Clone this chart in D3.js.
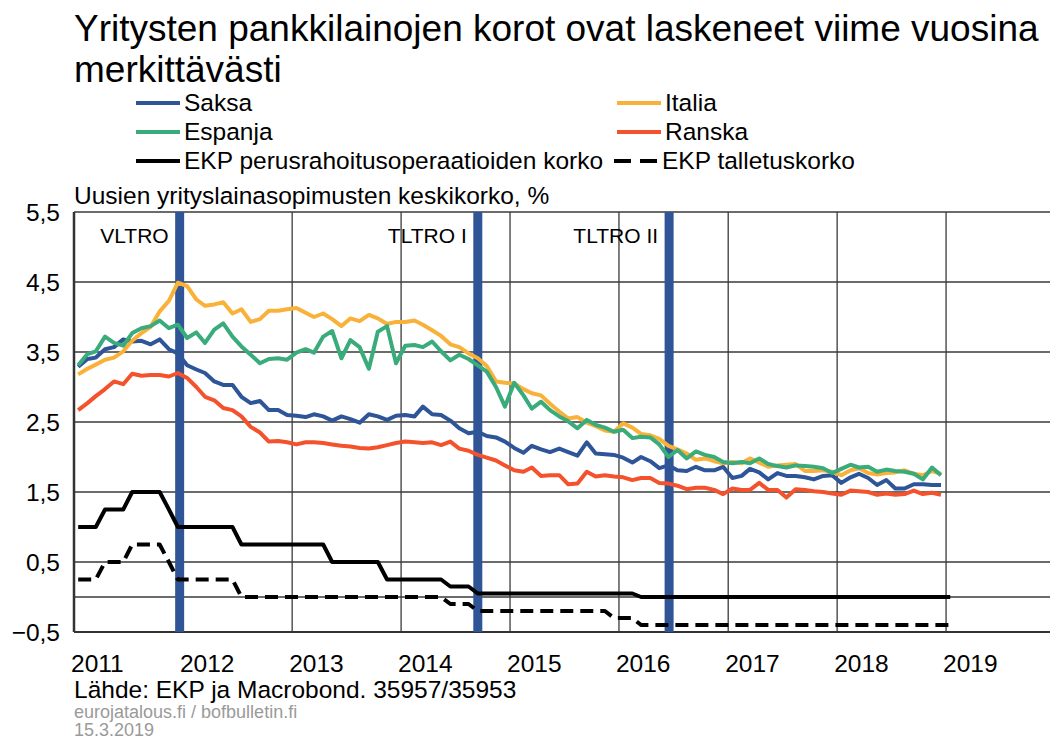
<!DOCTYPE html>
<html><head><meta charset="utf-8">
<script src="https://cdn.jsdelivr.net/npm/d3@7"></script>
<style>body{margin:0;background:#fff} text{font-family:"Liberation Sans", Arial, sans-serif}</style>
</head><body><svg id="c" width="1050" height="740"></svg>
<script>
// ---- data ----
const startYear = 2011;
const yearLabels = ["2011","2012","2013","2014","2015","2016","2017","2018","2019"];
const yTicks = [-0.5, 0.5, 1.5, 2.5, 3.5, 4.5, 5.5];
const extraGrid = [0];

const saksa = [3.29,3.40,3.42,3.54,3.57,3.68,3.65,3.66,3.61,3.68,3.54,3.48,3.31,3.25,3.20,3.08,3.03,3.03,2.86,2.77,2.80,2.67,2.67,2.60,
2.59,2.57,2.61,2.58,2.52,2.58,2.54,2.49,2.61,2.58,2.53,2.59,2.60,2.58,2.72,2.61,2.60,2.52,2.41,2.34,2.36,2.30,2.28,2.22,
2.13,2.06,2.16,2.11,2.07,2.12,2.07,2.02,2.21,2.05,2.04,2.03,1.99,1.92,2.00,1.94,1.84,1.88,1.81,1.80,1.86,1.81,1.81,1.86,
1.70,1.73,1.83,1.78,1.68,1.77,1.73,1.73,1.71,1.68,1.73,1.74,1.63,1.71,1.76,1.70,1.60,1.67,1.55,1.55,1.61,1.61,1.60,1.60];
const italia = [3.18,3.26,3.32,3.39,3.42,3.51,3.66,3.77,3.86,4.08,4.23,4.49,4.44,4.25,4.16,4.18,4.21,4.05,4.11,3.93,3.97,4.09,4.09,4.11,
4.13,4.06,4.00,4.05,3.97,3.87,3.98,3.94,4.03,3.98,3.90,3.93,3.93,3.95,3.89,3.81,3.73,3.61,3.57,3.48,3.41,3.30,3.08,3.06,
3.05,2.97,2.91,2.88,2.76,2.65,2.55,2.57,2.49,2.44,2.38,2.36,2.48,2.42,2.33,2.31,2.26,2.16,2.11,2.05,1.96,1.98,1.94,1.91,
1.93,1.91,1.98,1.92,1.86,1.88,1.89,1.90,1.80,1.80,1.81,1.79,1.74,1.81,1.84,1.77,1.75,1.77,1.78,1.81,1.76,1.74,1.80,1.76];
const espanja = [3.31,3.47,3.51,3.72,3.63,3.59,3.77,3.84,3.87,3.95,3.84,3.89,3.70,3.78,3.63,3.82,3.91,3.72,3.58,3.46,3.34,3.40,3.41,3.39,
3.49,3.54,3.49,3.72,3.80,3.41,3.67,3.57,3.26,3.79,3.87,3.34,3.59,3.60,3.57,3.65,3.51,3.38,3.46,3.40,3.31,3.22,3.00,2.72,
3.06,2.88,2.69,2.79,2.67,2.58,2.51,2.41,2.53,2.46,2.42,2.36,2.39,2.27,2.29,2.28,2.18,2.00,2.10,1.98,2.08,2.03,2.00,1.93,
1.91,1.93,1.91,1.98,1.90,1.87,1.85,1.88,1.87,1.86,1.84,1.77,1.83,1.89,1.85,1.86,1.79,1.82,1.80,1.79,1.76,1.68,1.85,1.74];
const ranska = [2.67,2.77,2.87,2.97,3.08,3.04,3.19,3.16,3.17,3.17,3.15,3.20,3.13,3.00,2.86,2.81,2.70,2.67,2.58,2.43,2.35,2.22,2.23,2.21,
2.18,2.21,2.21,2.20,2.18,2.16,2.15,2.13,2.12,2.14,2.17,2.20,2.22,2.21,2.20,2.21,2.17,2.22,2.12,2.09,2.03,1.99,1.95,1.88,
1.81,1.79,1.85,1.73,1.74,1.74,1.61,1.62,1.79,1.72,1.74,1.72,1.71,1.67,1.70,1.70,1.63,1.62,1.59,1.54,1.56,1.56,1.53,1.47,
1.55,1.53,1.53,1.63,1.53,1.53,1.42,1.54,1.53,1.51,1.50,1.48,1.46,1.52,1.51,1.50,1.46,1.48,1.46,1.47,1.52,1.47,1.49,1.46];
const ekpPerus = [1,1,1,1.25,1.25,1.25,1.5,1.5,1.5,1.5,1.25,1,
1,1,1,1,1,1,0.75,0.75,0.75,0.75,0.75,0.75,
0.75,0.75,0.75,0.75,0.5,0.5,0.5,0.5,0.5,0.5,0.25,0.25,
0.25,0.25,0.25,0.25,0.25,0.15,0.15,0.15,0.05,0.05,0.05,0.05,
0.05,0.05,0.05,0.05,0.05,0.05,0.05,0.05,0.05,0.05,0.05,0.05,
0.05,0.05,0,0,0,0,0,0,0,0,0,0,
0,0,0,0,0,0,0,0,0,0,0,0,
0,0,0,0,0,0,0,0,0,0,0,0,
0];
const ekpTalletus = [0.25,0.25,0.25,0.5,0.5,0.5,0.75,0.75,0.75,0.75,0.5,0.25,
0.25,0.25,0.25,0.25,0.25,0.25,0,0,0,0,0,0,
0,0,0,0,0,0,0,0,0,0,0,0,
0,0,0,0,0,-0.1,-0.1,-0.1,-0.2,-0.2,-0.2,-0.2,
-0.2,-0.2,-0.2,-0.2,-0.2,-0.2,-0.2,-0.2,-0.2,-0.2,-0.2,-0.3,
-0.3,-0.3,-0.4,-0.4,-0.4,-0.4,-0.4,-0.4,-0.4,-0.4,-0.4,-0.4,
-0.4,-0.4,-0.4,-0.4,-0.4,-0.4,-0.4,-0.4,-0.4,-0.4,-0.4,-0.4,
-0.4,-0.4,-0.4,-0.4,-0.4,-0.4,-0.4,-0.4,-0.4,-0.4,-0.4,-0.4,
-0.4];
const eventNames = ["VLTRO", "TLTRO I", "TLTRO II"];
const eventDates = ["2011-12-21", "2014-09-15", "2016-06-17"];

// ---- chart ----
const svg = d3.select("#c");
const L = 74, R = 1055, T = 212, B = 632;
const x = d3.scaleUtc().domain([new Date(Date.UTC(2011,0,1)), new Date(Date.UTC(2020,0,1))]).range([L, R]);
const y = d3.scaleLinear().domain([-0.5, 5.5]).range([B, T]);
const monthDate = i => new Date(Date.UTC(startYear, i, 15));
const fmt = v => d3.format(".1f")(v).replace(".", ",");

// title
svg.append("text").attr("x", 74).attr("y", 41).attr("font-size", 37).attr("fill", "#000")
  .text("Yritysten pankkilainojen korot ovat laskeneet viime vuosina");
svg.append("text").attr("x", 74).attr("y", 82).attr("font-size", 37).attr("fill", "#000")
  .text("merkittävästi");

// legend
const colors = {saksa:"#2e5597", italia:"#f9b13a", espanja:"#3aab7b", ranska:"#f4522d"};
const legend = [
  {name:"Saksa", c:colors.saksa, x:136, y:111},
  {name:"Italia", c:colors.italia, x:617, y:111},
  {name:"Espanja", c:colors.espanja, x:136, y:140},
  {name:"Ranska", c:colors.ranska, x:617, y:140},
  {name:"EKP perusrahoitusoperaatioiden korko", c:"#000", x:136, y:169},
  {name:"EKP talletuskorko", c:"#000", x:614, y:169, dash:true},
];
legend.forEach(d => {
  svg.append("line").attr("x1", d.x).attr("x2", d.x + 44).attr("y1", d.y - 8).attr("y2", d.y - 8)
    .attr("stroke", d.c).attr("stroke-width", 4)
    .attr("stroke-dasharray", d.dash ? "17,9" : null);
  svg.append("text").attr("x", d.x + 48).attr("y", d.y).attr("font-size", 24.5).text(d.name);
});

// subtitle
svg.append("text").attr("x", 74).attr("y", 204).attr("font-size", 24.5).text("Uusien yrityslainasopimusten keskikorko, %");

// grid
const g = svg.append("g");
const yearTicks = d3.range(2012, 2021).map(yv => new Date(Date.UTC(yv,0,1)));
g.selectAll(".vg").data(yearTicks).join("line")
  .attr("x1", d => x(d)).attr("x2", d => x(d)).attr("y1", T).attr("y2", B)
  .attr("stroke", "#3a3a3a").attr("stroke-width", 1.3);
g.selectAll(".hg").data(yTicks.concat(extraGrid)).join("line")
  .attr("x1", L).attr("x2", 1050).attr("y1", d => y(d)).attr("y2", d => y(d))
  .attr("stroke", "#3a3a3a").attr("stroke-width", 1.3);
g.append("line").attr("x1", L).attr("x2", L).attr("y1", T).attr("y2", B).attr("stroke", "#333").attr("stroke-width", 2.5);
g.append("line").attr("x1", L).attr("x2", 1050).attr("y1", B).attr("y2", B).attr("stroke", "#333").attr("stroke-width", 2);

// y labels
svg.selectAll(".yl").data(yTicks).join("text")
  .attr("x", 60).attr("y", d => y(d)).attr("dy", "0.36em").attr("text-anchor", "end")
  .attr("font-size", 24.5).text(fmt);
// x labels
svg.selectAll(".xl").data(yearLabels).join("text")
  .attr("x", d => x(new Date(Date.UTC(+d,0,1))) - 3).attr("y", 672).attr("font-size", 24.5).text(d => d);

// event bars
const ev = eventDates.map((d, i) => ({name: eventNames[i], date: new Date(d + "T00:00:00Z")}));
svg.selectAll(".bar").data(ev).join("rect")
  .attr("x", d => x(d.date) - 4.5).attr("width", 9).attr("y", T).attr("height", B - T)
  .attr("fill", "#2f5597");
svg.selectAll(".evl").data(ev).join("text")
  .attr("x", d => x(d.date) - 11).attr("y", 243).attr("text-anchor", "end")
  .attr("font-size", 21).text(d => d.name);

// lines
const line = d3.line().x((d, i) => x(monthDate(i))).y(d => y(d));
const series = [
  {v: ekpTalletus, c: "#000", w: 4, dash: "13,7"},
  {v: ekpPerus, c: "#000", w: 4},
  {v: ranska, c: colors.ranska, w: 4},
  {v: saksa, c: colors.saksa, w: 4},
  {v: italia, c: colors.italia, w: 4},
  {v: espanja, c: colors.espanja, w: 4},
];
series.forEach(s => {
  svg.append("path").attr("d", line(s.v)).attr("fill", "none").attr("stroke", s.c)
    .attr("stroke-width", s.w).attr("stroke-linejoin", "round")
    .attr("stroke-dasharray", s.dash || null);
});

// footer
svg.append("text").attr("x", 74).attr("y", 698).attr("font-size", 24.5).text("Lähde: EKP ja Macrobond. 35957/35953");
svg.append("text").attr("x", 74).attr("y", 718).attr("font-size", 18).attr("fill", "#9a9a9a").text("eurojatalous.fi / bofbulletin.fi");
svg.append("text").attr("x", 74).attr("y", 736).attr("font-size", 18).attr("fill", "#9a9a9a").text("15.3.2019");
</script></body></html>
